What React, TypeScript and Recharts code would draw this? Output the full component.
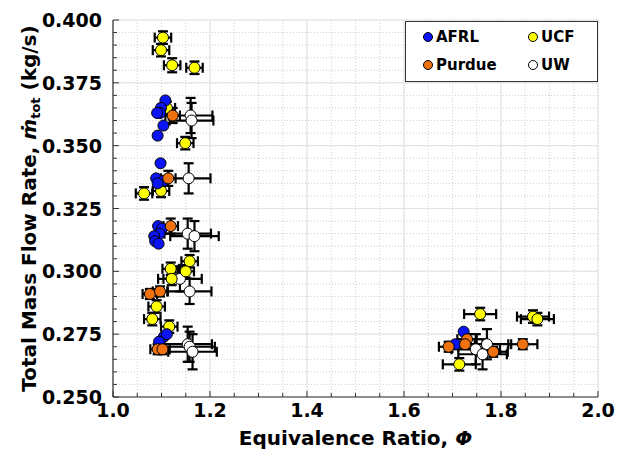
import { ScatterChart, Scatter, XAxis, YAxis, CartesianGrid, ErrorBar } from "recharts";

// Equivalence ratio (phi) and total mass flow rate (kg/s) for each lab
const afrlPhi = [1.108, 1.099, 1.097, 1.091, 1.104, 1.092, 1.098, 1.089, 1.104, 1.092, 1.093, 1.101, 1.096, 1.085, 1.087, 1.094, 1.105, 1.111, 1.095, 1.723, 1.706];
const afrlMdot = [0.368, 0.365, 0.363, 0.363, 0.358, 0.354, 0.343, 0.337, 0.336, 0.335, 0.318, 0.317, 0.315, 0.314, 0.312, 0.311, 0.274, 0.275, 0.272, 0.276, 0.271];

const ucfPhi = [1.103, 1.099, 1.122, 1.168, 1.111, 1.149, 1.064, 1.099, 1.158, 1.119, 1.150, 1.121, 1.090, 1.081, 1.116, 1.757, 1.866, 1.875, 1.714];
const ucfMdot = [0.393, 0.388, 0.382, 0.381, 0.365, 0.351, 0.331, 0.332, 0.304, 0.301, 0.300, 0.297, 0.286, 0.281, 0.278, 0.283, 0.282, 0.281, 0.263];
const ucfPhiErr = [0.017, 0.017, 0.017, 0.017, 0.017, 0.017, 0.017, 0.017, 0.017, 0.017, 0.017, 0.017, 0.017, 0.017, 0.017, 0.033, 0.033, 0.034, 0.034];
const ucfMdotErr = [0.0025, 0.0025, 0.0028, 0.0025, 0.0025, 0.0025, 0.0025, 0.0025, 0.0025, 0.0025, 0.0025, 0.0025, 0.0025, 0.0025, 0.0025, 0.0025, 0.0025, 0.0025, 0.0025];

const purduePhi = [1.123, 1.114, 1.119, 1.076, 1.097, 1.092, 1.102, 1.692, 1.730, 1.726, 1.784, 1.845];
const purdueMdot = [0.362, 0.337, 0.318, 0.291, 0.292, 0.269, 0.269, 0.270, 0.273, 0.271, 0.268, 0.271];
const purduePhiErr = [0.015, 0.015, 0.015, 0.015, 0.015, 0.015, 0.015, 0.02, 0.02, 0.02, 0.03, 0.03];
const purdueMdotErr = [0.003, 0.003, 0.003, 0.002, 0.002, 0.002, 0.002, 0.002, 0.002, 0.002, 0.002, 0.002];

const uwPhi = [1.160, 1.162, 1.156, 1.154, 1.168, 1.158, 1.138, 1.154, 1.158, 1.164, 1.771, 1.748, 1.762];
const uwMdot = [0.362, 0.360, 0.337, 0.315, 0.314, 0.292, 0.297, 0.271, 0.270, 0.268, 0.271, 0.269, 0.267];
const uwPhiErr = [0.045, 0.045, 0.045, 0.048, 0.05, 0.045, 0.045, 0.05, 0.052, 0.05, 0.05, 0.05, 0.05];
const uwMdotErr = [0.007, 0.007, 0.006, 0.006, 0.006, 0.005, 0.005, 0.007, 0.006, 0.007, 0.006, 0.006, 0.006];

const xTicks = [1.0, 1.05, 1.1, 1.15, 1.2, 1.25, 1.3, 1.35, 1.4, 1.45, 1.5, 1.55, 1.6, 1.65, 1.7, 1.75, 1.8, 1.85, 1.9, 1.95, 2.0];
const yTicks = Array.from({ length: 31 }, (_, i) => Math.round((0.25 + i * 0.005) * 1000) / 1000);
const xMajor = xTicks.filter((_, i) => i % 4 === 0);
const yMajor = yTicks.filter((_, i) => i % 5 === 0);

const COLORS = { afrl: "#0a14f5", ucf: "#ffff00", purdue: "#f0720e", uw: "#ffffff" };

const PLOT = { left: 113, right: 598, top: 20, bottom: 397 };
const FONT = "'DejaVu Sans', Verdana, sans-serif";

const toRows = (phi: number[], mdot: number[], ex?: number[], ey?: number[]) =>
  phi.map((p, i) => ({ phi: p, mdot: mdot[i], ex: ex ? ex[i] : 0, ey: ey ? ey[i] : 0 }));

const afrlData = toRows(afrlPhi, afrlMdot);
const ucfData = toRows(ucfPhi, ucfMdot, ucfPhiErr, ucfMdotErr);
const purdueData = toRows(purduePhi, purdueMdot, purduePhiErr, purdueMdotErr);
const uwData = toRows(uwPhi, uwMdot, uwPhiErr, uwMdotErr);

// labelled ticks: every 0.2 on x, every 0.025 on y
const isMajorX = (v: number) => Math.abs(v * 5 - Math.round(v * 5)) < 1e-6;
const isMajorY = (v: number) => Math.abs(v * 40 - Math.round(v * 40)) < 1e-6;

const BottomTick = (props: any) => {
  const { x, payload } = props;
  const major = isMajorX(payload.value);
  return (
    <g>
      <line x1={x} x2={x} y1={PLOT.bottom} y2={PLOT.bottom - (major ? 6 : 4)} stroke="#333" />
      {major && (
        <text x={x} y={PLOT.bottom + 20} textAnchor="middle" fontFamily={FONT} fontWeight="bold" fontSize={19} fill="#000">
          {payload.value.toFixed(1)}
        </text>
      )}
    </g>
  );
};

const TopTick = (props: any) => {
  const { x, payload } = props;
  const major = isMajorX(payload.value);
  return <line x1={x} x2={x} y1={PLOT.top} y2={PLOT.top + (major ? 6 : 4)} stroke="#333" />;
};

const LeftTick = (props: any) => {
  const { y, payload } = props;
  const major = isMajorY(payload.value);
  return (
    <g>
      <line x1={PLOT.left} x2={PLOT.left + (major ? 6 : 4)} y1={y} y2={y} stroke="#333" />
      {major && (
        <text x={PLOT.left - 11} y={y + 7} textAnchor="end" fontFamily={FONT} fontWeight="bold" fontSize={19} fill="#000">
          {payload.value.toFixed(3)}
        </text>
      )}
    </g>
  );
};

const RightTick = (props: any) => {
  const { y, payload } = props;
  const major = isMajorY(payload.value);
  return <line x1={PLOT.right} x2={PLOT.right - (major ? 6 : 4)} y1={y} y2={y} stroke="#333" />;
};

const dot = (fill: string) => (p: any) => (
  <circle cx={p.cx} cy={p.cy} r={5.5} fill={fill} stroke="#000" strokeWidth={1} />
);

const xTitle = () => (
  <text x={(PLOT.left + PLOT.right) / 2} y={445} textAnchor="middle" fontFamily={FONT} fontWeight="bold" fontSize={20} fill="#000">
    Equivalence Ratio, <tspan fontStyle="italic">Φ</tspan>
  </text>
);

const yTitle = () => (
  <text transform={`translate(36,${(PLOT.top + PLOT.bottom) / 2}) rotate(-90)`} x={0} y={0} textAnchor="middle" fontFamily={FONT} fontWeight="bold" fontSize={20} fill="#000">
    Total Mass Flow Rate, <tspan fontStyle="italic">ṁ</tspan>
    <tspan fontSize={13} dy={4}>tot</tspan>
    <tspan dy={-4}> (kg/s)</tspan>
  </text>
);

const legendItems = [
  { name: "AFRL", color: COLORS.afrl, left: 428, top: 37 },
  { name: "UCF", color: COLORS.ucf, left: 533, top: 37 },
  { name: "Purdue", color: COLORS.purdue, left: 428, top: 65 },
  { name: "UW", color: COLORS.uw, left: 533, top: 65 },
];

const bars = (
  <>
    <ErrorBar dataKey="ex" direction="x" width={5} stroke="#000" strokeWidth={2.2} />
    <ErrorBar dataKey="ey" direction="y" width={5} stroke="#000" strokeWidth={2.2} />
  </>
);

export default function App() {
  return (
    <div style={{ position: "absolute", left: 0, top: 0, width: 618, height: 460, background: "#fff" }}>
      <ScatterChart width={618} height={460} margin={{ top: 20, right: 20, bottom: 0, left: 0 }}>
        <CartesianGrid stroke="#cfcfcf" strokeDasharray="1 2" />
        <CartesianGrid stroke="#e2e2e2" horizontalValues={yMajor} verticalValues={xMajor} />
        <XAxis type="number" dataKey="phi" domain={[1, 2]} ticks={xTicks} interval={0} height={63} allowDataOverflow
          tick={<BottomTick />} tickLine={false} axisLine={{ stroke: "#333", strokeWidth: 1.2 }} label={xTitle} />
        <XAxis xAxisId="top" orientation="top" type="number" dataKey="phi" domain={[1, 2]} ticks={xTicks} interval={0} height={0} allowDataOverflow
          tick={<TopTick />} tickLine={false} axisLine={{ stroke: "#333", strokeWidth: 1.2 }} />
        <YAxis type="number" dataKey="mdot" domain={[0.25, 0.4]} ticks={yTicks} interval={0} width={113} allowDataOverflow
          tick={<LeftTick />} tickLine={false} axisLine={{ stroke: "#333", strokeWidth: 1.2 }} label={yTitle} />
        <YAxis yAxisId="right" orientation="right" type="number" dataKey="mdot" domain={[0.25, 0.4]} ticks={yTicks} interval={0} width={0} allowDataOverflow
          tick={<RightTick />} tickLine={false} axisLine={{ stroke: "#333", strokeWidth: 1.2 }} />
        <Scatter name="UW" data={uwData} shape={dot(COLORS.uw)} isAnimationActive={false}>
          {bars}
        </Scatter>
        <Scatter name="UCF" data={ucfData} shape={dot(COLORS.ucf)} isAnimationActive={false}>
          {bars}
        </Scatter>
        <Scatter name="AFRL" data={afrlData} shape={dot(COLORS.afrl)} isAnimationActive={false} />
        <Scatter name="Purdue" data={purdueData} shape={dot(COLORS.purdue)} isAnimationActive={false}>
          {bars}
        </Scatter>
      </ScatterChart>
      <div style={{ position: "absolute", left: 405, top: 21, width: 193, height: 61, border: "1px solid #333", background: "#fff", boxSizing: "border-box" }} />
      {legendItems.map((it) => (
        <div key={it.name} style={{ position: "absolute", left: it.left - 5, top: it.top - 10, height: 20, display: "flex", alignItems: "center", fontFamily: FONT, fontWeight: "bold", fontSize: 15, color: "#000" }}>
          <span style={{ display: "inline-block", width: 8, height: 8, borderRadius: "50%", background: it.color, border: "1px solid #000", marginRight: 3 }} />
          {it.name}
        </div>
      ))}
    </div>
  );
}
